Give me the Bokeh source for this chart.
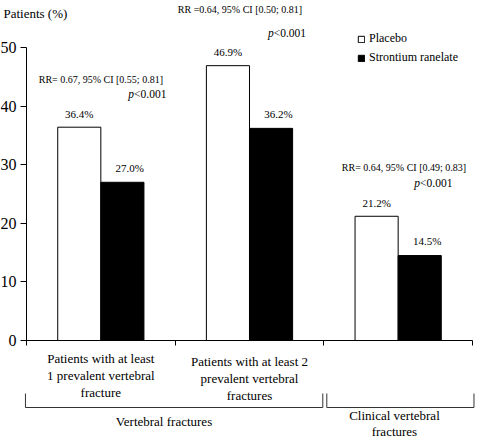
from bokeh.plotting import figure
from bokeh.models import ColumnDataSource, Range1d, FixedTicker, Legend, LegendItem
from bokeh.core.properties import value
from bokeh.embed import file_html
from bokeh.resources import INLINE

# ---------------- data ----------------
categories = [
    "Patients with at least\n1 prevalent vertebral\nfracture",
    "Patients with at least 2\nprevalent vertebral\nfractures",
    "",
]
series = ["Placebo", "Strontium ranelate"]
placebo = [36.4, 46.9, 21.2]
strontium = [27.0, 36.2, 14.5]
rr_labels = [
    "RR= 0.67, 95% CI [0.55; 0.81]",
    "RR =0.64, 95% CI [0.50; 0.81]",
    "RR= 0.64, 95% CI [0.49; 0.83]",
]
p_labels = ["<0.001", "<0.001", "<0.001"]
groups = ["Vertebral fractures", "Clinical vertebral\nfractures"]
group_first = [0, 2]
group_last = [1, 2]
y_ticks = [0, 10, 20, 30, 40, 50]
y_title = "Patients (%)"

# ---------------- layout ----------------
FONT = "Liberation Serif"
W, H = 478, 440
n = len(categories)
BAR_W = 0.29
rr_x = [0.5, 1.436, 2.539]
rr_y = [44.5, 56.5, 29.5]
p_x = [0.81, 1.749, 2.734]
p_y = [42.0, 52.4, 26.8]
cat_label_y = [-5.97, -6.48, -5.97]
group_label_x = [0.925, 2.475]
group_label_y = [-13.85, -14.2]
bracket_bottom = -11.43
bracket_top = -9.04

p = figure(width=W, height=H, output_backend="svg", toolbar_location=None,
           x_range=Range1d(-0.1749, 3.0404), y_range=Range1d(-17.06, 58.02),
           min_border=0, min_border_left=0, min_border_right=0,
           min_border_top=0, min_border_bottom=0)
p.outline_line_color = None
p.xgrid.visible = False
p.ygrid.visible = False
p.background_fill_color = "white"
p.border_fill_color = "white"

# axes
p.yaxis.fixed_location = 0
p.yaxis.bounds = (y_ticks[0], y_ticks[-1])
p.yaxis.ticker = FixedTicker(ticks=y_ticks)
p.yaxis.major_tick_out = 6
p.yaxis.major_tick_in = 0
p.yaxis.minor_tick_line_color = None
p.yaxis.major_label_standoff = 4
p.yaxis.major_label_text_font = FONT
p.yaxis.major_label_text_font_size = "16px"
p.yaxis.major_label_text_color = "black"
p.yaxis.axis_line_color = "black"
p.yaxis.major_tick_line_color = "black"

p.xaxis.fixed_location = 0
p.xaxis.bounds = (0, n)
p.xaxis.ticker = FixedTicker(ticks=list(range(n + 1)))
p.xaxis.major_tick_out = 5
p.xaxis.major_tick_in = 0
p.xaxis.minor_tick_line_color = None
p.xaxis.major_label_text_color = None
p.xaxis.axis_line_color = "black"
p.xaxis.major_tick_line_color = "black"

# bars
src = ColumnDataSource(dict(
    x_p=[i + 0.5 - BAR_W / 2 for i in range(n)],
    x_s=[i + 0.5 + BAR_W / 2 for i in range(n)],
    placebo=placebo,
    strontium=strontium,
    lab_p=[f"{v:.1f}%" for v in placebo],
    lab_s=[f"{v:.1f}%" for v in strontium],
    y_lab_p=[v + 2.3 for v in placebo],
    y_lab_s=[v + 2.4 for v in strontium],
    x_lab_s=[i + 0.5 + BAR_W / 2 + 0.05 for i in range(n)],
))
r1 = p.vbar(x="x_p", top="placebo", bottom=0, width=BAR_W, source=src,
            fill_color="white", line_color="black", line_width=1)
r2 = p.vbar(x="x_s", top="strontium", bottom=0, width=BAR_W, source=src,
            fill_color="black", line_color="black", line_width=1)

p.text(x="x_p", y="y_lab_p", text="lab_p", source=src, text_align="center",
       text_baseline="middle", text_font=value(FONT), text_font_size="11px",
       text_color="black")
p.text(x="x_lab_s", y="y_lab_s", text="lab_s", source=src, text_align="center",
       text_baseline="middle", text_font=value(FONT), text_font_size="11px",
       text_color="black")

# RR annotations
p.text(x=rr_x, y=rr_y, text=rr_labels, text_align="center", text_baseline="middle",
       text_font=value(FONT), text_font_size="10px", text_color="black")
split = [x - 0.0865 for x in p_x]
p.text(x=split, y=p_y, text=["p"] * len(p_x), text_align="right", text_baseline="middle",
       text_font=value(FONT), text_font_size="11.5px", text_font_style="italic",
       text_color="black")
p.text(x=split, y=p_y, text=p_labels, text_align="left", text_baseline="middle",
       text_font=value(FONT), text_font_size="11.5px", text_color="black")

# y title
p.text(x=[-0.155], y=[55.8], text=[y_title], text_align="left", text_baseline="middle",
       text_font=value(FONT), text_font_size="13px", text_color="black")

# category labels (skip empty ones)
cat_idx = [i for i in range(n) if categories[i]]
p.text(x=[i + 0.5 for i in cat_idx], y=[cat_label_y[i] for i in cat_idx],
       text=[categories[i] for i in cat_idx],
       text_align="center", text_baseline="middle", text_line_height=1.15,
       text_font=value(FONT), text_font_size="13px", text_color="black")

# brackets
xs, ys = [], []
for g0, g1 in zip(group_first, group_last):
    x0 = g0 - 0.007 if g0 == 0 else g0 + 0.02
    x1 = g1 + 1 + 0.01 if g1 == n - 1 else g1 + 1 - 0.007
    xs.append([x0, x0, x1, x1])
    ys.append([bracket_top, bracket_bottom, bracket_bottom, bracket_top])
p.multi_line(xs=xs, ys=ys, line_color="#333333", line_width=1)
p.text(x=group_label_x, y=group_label_y, text=groups, text_align="center",
       text_baseline="middle", text_line_height=1.1,
       text_font=value(FONT), text_font_size="13px", text_color="black")

# legend
legend = Legend(items=[LegendItem(label=series[0], renderers=[r1]),
                       LegendItem(label=series[1], renderers=[r2])],
                location=(357, 375), glyph_width=8, glyph_height=8,
                label_standoff=4, spacing=4, padding=0, margin=0,
                label_height=14, border_line_color=None,
                background_fill_alpha=0, label_text_font=FONT,
                label_text_font_size="12px", label_text_color="black")
p.add_layout(legend)

open("out.html", "w").write(file_html(p, INLINE))
